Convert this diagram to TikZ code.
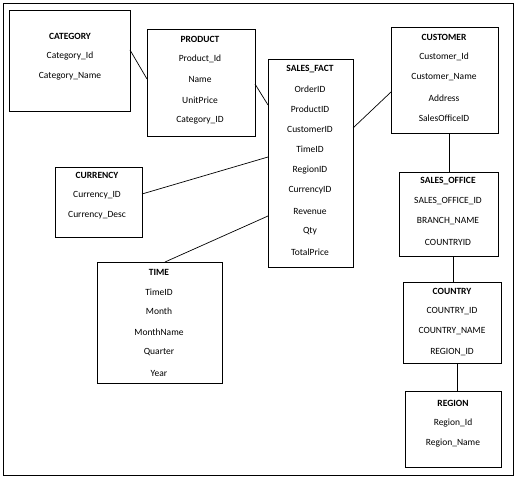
\documentclass[tikz,border=0pt]{standalone}
\usepackage{fontspec}
\setmainfont{Carlito}
\usetikzlibrary{calc}
\begin{document}
\begin{tikzpicture}[x=1pt,y=-1pt,
  box/.style={draw,line width=0.8pt,inner sep=0pt,outer sep=0pt},
  conn/.style={draw,line width=0.7pt},
  txt/.style={inner sep=0pt,font=\fontsize{9.5}{10}\selectfont},
  ttl/.style={inner sep=0pt,font=\fontsize{9.5}{10}\selectfont\bfseries}]
\useasboundingbox (0,0) rectangle (516,478);
\node[box,minimum width=510pt,minimum height=472pt] (frame) at (258,239) {};
% boxes
\node[box,minimum width=121pt,minimum height=101pt] (cat) at (69.5,60.5) {};
\node[box,minimum width=108pt,minimum height=107pt] (prod) at (201,82.5) {};
\node[box,minimum width=85pt,minimum height=208pt] (fact) at (310.5,163) {};
\node[box,minimum width=107pt,minimum height=106pt] (cust) at (444.5,80) {};
\node[box,minimum width=87pt,minimum height=70pt] (curr) at (98.5,202) {};
\node[box,minimum width=125pt,minimum height=121pt] (time) at (159.5,322.5) {};
\node[box,minimum width=99pt,minimum height=84pt] (so) at (448.5,214) {};
\node[box,minimum width=98pt,minimum height=81pt] (ctry) at (452,322.5) {};
\node[box,minimum width=96pt,minimum height=76pt] (reg) at (453,429) {};
% texts
\node[ttl] (catT) at (70,36) {CATEGORY};
\node[txt] (cat1) at (70,56) {Category\_Id};
\node[txt] (cat2) at (70,76) {Category\_Name};
\node[ttl] (prodT) at (200,39) {PRODUCT};
\node[txt] (prod1) at (200,59) {Product\_Id};
\node[txt] (prod2) at (200,79) {Name};
\node[txt] (prod3) at (200,100) {UnitPrice};
\node[txt] (prod4) at (200,120) {Category\_ID};
\node[ttl] (factT) at (310,69) {SALES\_FACT};
\node[txt] (f1) at (310,89) {OrderID};
\node[txt] (f2) at (310,109) {ProductID};
\node[txt] (f3) at (310,129) {CustomerID};
\node[txt] (f4) at (310,149) {TimeID};
\node[txt] (f5) at (310,170) {RegionID};
\node[txt] (f6) at (310,190) {CurrencyID};
\node[txt] (f7) at (310,211) {Revenue};
\node[txt] (f8) at (310,231) {Qty};
\node[txt] (f9) at (310,252) {TotalPrice};
\node[ttl] (custT) at (444,37) {CUSTOMER};
\node[txt] (c1) at (444,57) {Customer\_Id};
\node[txt] (c2) at (444,77) {Customer\_Name};
\node[txt] (c3) at (444,98) {Address};
\node[txt] (c4) at (444,118) {SalesOfficeID};
\node[ttl] (currT) at (97,175) {CURRENCY};
\node[txt] (cu1) at (97,195) {Currency\_ID};
\node[txt] (cu2) at (97,215) {Currency\_Desc};
\node[ttl] (timeT) at (159,272) {TIME};
\node[txt] (t1) at (159,292) {TimeID};
\node[txt] (t2) at (159,311) {Month};
\node[txt] (t3) at (159,332) {MonthName};
\node[txt] (t4) at (159,352) {Quarter};
\node[txt] (t5) at (159,373) {Year};
\node[ttl] (soT) at (448,181) {SALES\_OFFICE};
\node[txt] (s1) at (448,201) {SALES\_OFFICE\_ID};
\node[txt] (s2) at (448,221) {BRANCH\_NAME};
\node[txt] (s3) at (448,242) {COUNTRYID};
\node[ttl] (ctryT) at (452,291) {COUNTRY};
\node[txt] (k1) at (452,311) {COUNTRY\_ID};
\node[txt] (k2) at (452,331) {COUNTRY\_NAME};
\node[txt] (k3) at (452,352) {REGION\_ID};
\node[ttl] (regT) at (453,403) {REGION};
\node[txt] (r1) at (453,423) {Region\_Id};
\node[txt] (r2) at (453,443) {Region\_Name};
% connectors
\draw[conn] ([yshift=10.5pt]cat.east) -- ([yshift=3.5pt]prod.west);
\draw[conn] ([yshift=-1.5pt]prod.east) -- ([yshift=58pt]fact.west);
\draw[conn] ([yshift=35pt]fact.east) -- ([yshift=-12pt]cust.west);
\draw[conn] ([yshift=8pt]curr.east) -- ([yshift=6pt]fact.west);
\draw[conn] ([xshift=5.5pt]time.north) -- ([yshift=-53pt]fact.west);
\draw[conn] ([xshift=0.5pt]so.north) -- ([xshift=0.5pt]so.north |- cust.south);
\draw[conn] ([xshift=1pt]ctry.north) -- ([xshift=1pt]ctry.north |- so.south);
\draw[conn] ([xshift=4pt]reg.north) -- ([xshift=4pt]reg.north |- ctry.south);
\end{tikzpicture}
\end{document}
